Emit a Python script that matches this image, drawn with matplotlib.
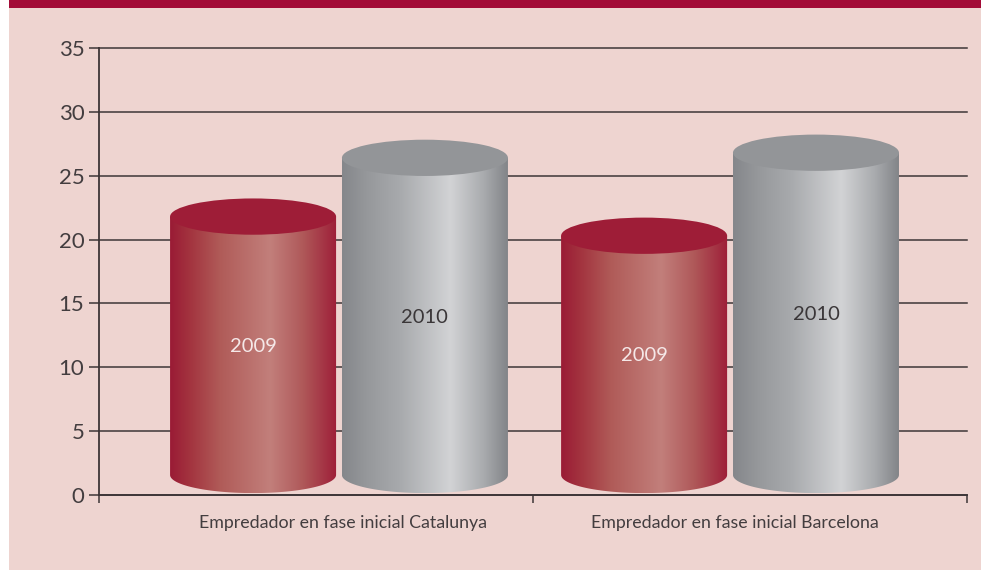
import numpy as np
import matplotlib.pyplot as plt
from matplotlib.colors import LinearSegmentedColormap
from matplotlib.patches import Ellipse, PathPatch, Rectangle
from matplotlib.path import Path

# datos
categories = ["Empredador en fase inicial Catalunya", "Empredador en fase inicial Barcelona"]
years = ["2009", "2010"]
values_2009 = [21.8, 20.3]
values_2010 = [26.4, 26.8]
yticks = [0, 5, 10, 15, 20, 25, 30, 35]

plt.rcParams['font.family'] = ['Lato', 'DejaVu Sans']

BG = '#eed4d0'
DARK = '#3d3537'
TXT = '#433d3f'

red_cmap = LinearSegmentedColormap.from_list('red_cyl', [
    (0.0, '#9a1b35'), (0.12, '#a3343f'), (0.3, '#b05b58'),
    (0.6, '#c27f7b'), (0.8, '#af5859'), (1.0, '#9e1f38')])
grey_cmap = LinearSegmentedColormap.from_list('grey_cyl', [
    (0.0, '#85878b'), (0.15, '#96989b'), (0.35, '#a8aaad'),
    (0.65, '#d2d3d5'), (0.85, '#a9abae'), (1.0, '#818387')])


def draw_cylinder(ax, xc, w, top, cmap, top_color, label, label_color):
    ry = 1.42          # media altura de la elipse (unidades de datos)
    bot = 1.57
    x0, x1 = xc - w / 2, xc + w / 2
    t = np.linspace(np.pi, 2 * np.pi, 80)
    xs = list(xc + w / 2 * np.cos(t)) + [x1, x0, x0]
    ys = list(bot + ry * np.sin(t)) + [top, top, bot]
    side = PathPatch(Path(np.column_stack([xs, ys])), facecolor='none',
                     edgecolor='none', transform=ax.transData)
    ax.add_patch(side)
    grad = np.linspace(0, 1, 256).reshape(1, -1)
    im = ax.imshow(grad, cmap=cmap, extent=(x0, x1, bot - ry, top),
                   aspect='auto', origin='lower', zorder=2)
    im.set_clip_path(side)
    ax.add_patch(Ellipse((xc, top), w, 2 * ry, facecolor=top_color,
                         edgecolor='none', zorder=3))
    ax.text(xc, (top + bot) / 2 - 0.05, label, ha='center', va='center',
            fontsize=14.5, color=label_color, zorder=4)


fig = plt.figure(figsize=(9.81, 5.70), dpi=100)
fig.patches.append(Rectangle((9 / 981, 0), 1, 1, transform=fig.transFigure,
                             facecolor=BG, edgecolor='none', zorder=-10))
fig.patches.append(Rectangle((9 / 981, 1 - 8 / 570), 1, 8 / 570,
                             transform=fig.transFigure, facecolor='#a30b37',
                             edgecolor='none', zorder=-9))

ax = fig.add_axes([99 / 981, 1 - 495 / 570, 868 / 981, 447 / 570])
ax.set_facecolor('none')

group_pos = [0.553, 1.454]
w = 0.3825
off = 0.198
for i in range(len(categories)):
    draw_cylinder(ax, group_pos[i] - off, w, values_2009[i], red_cmap,
                  '#9e1d37', years[0], '#f5e8e8')
    draw_cylinder(ax, group_pos[i] + off, w, values_2010[i], grey_cmap,
                  '#939598', years[1], '#3a3638')
    ax.text(group_pos[i] + 0.01, -2.2, categories[i], ha='center', va='center',
            fontsize=12.8, color=TXT)

ax.set_xlim(0, 2)
ax.set_ylim(0, 35)
ax.set_yticks(yticks)
ax.set_yticklabels([str(v) for v in yticks])
ax.set_xticks([0, 1, 2])
ax.set_xticklabels([])
ax.tick_params(axis='y', length=7.5, width=1.1, color=DARK, pad=3,
               labelsize=16, labelcolor=TXT)
ax.tick_params(axis='x', length=6, width=1.1, color=DARK)

ax.yaxis.grid(True, color=DARK, linewidth=1.1)
ax.set_axisbelow(True)
for gl in ax.get_ygridlines():
    gl.set_clip_on(False)

for s in ['top', 'right']:
    ax.spines[s].set_visible(False)
for s in ['left', 'bottom']:
    ax.spines[s].set_color(DARK)
    ax.spines[s].set_linewidth(1.3)

fig.savefig('out.png', dpi=100, facecolor='white')
